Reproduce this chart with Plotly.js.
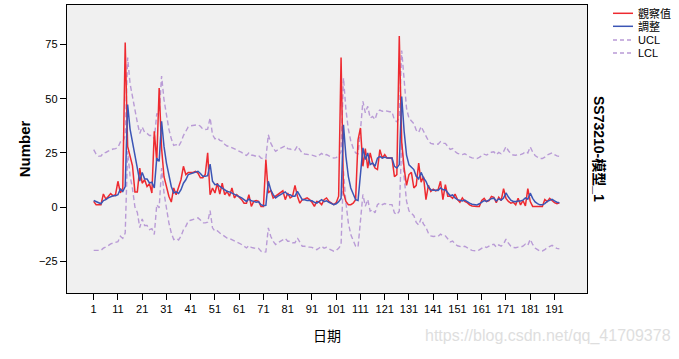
<!DOCTYPE html>
<html>
<head>
<meta charset="utf-8">
<script src="https://cdn.plot.ly/plotly-3.0.1.min.js"></script>
<style>html,body{margin:0;padding:0;background:#fff;}#chart{width:679px;height:359px;}</style>
</head>
<body>
<div id="chart"></div>
<script>
// ---- data ----
const observed = [
 2.6,1.1,1.1,1.1,6,3.7,4.9,6.2,5.2,5.7,
 11.9,6.5,8.8,76,28,24,19,7,7,18,
 11,12.6,9.5,10.8,6.5,35,21,55,27,14,
 9,5,2.3,8.8,5.7,9.5,12.6,18.8,15,16,
 16,16,16.5,15.7,13.5,13.5,15,25,5.7,8.8,
 6.5,11,6,11,5.7,7.2,5,8.8,4.2,5.7,
 4.5,3.4,1.8,1.8,5.7,0.3,2.6,3,2.6,0.3,
 0.3,21.9,6.5,7.7,4.2,5,5.7,6.5,7.5,3.4,
 6.5,4.2,5,10,5,1.8,3.4,3.7,4.2,3.4,
 2.2,0.3,2.6,2.2,1.1,3.4,4.2,2.6,1.8,1.1,
 2,5,69,6.5,2.6,1.1,1.1,1.8,3.4,31,
 36.5,18.8,27,18,25,20.3,18,17.3,26.5,22.6,
 24.2,22.6,22.6,22.6,14,15,79,30,18,10,
 15,16,8.8,10,20.3,11.5,14,3.4,10,7.2,
 8.2,7.5,8,11.9,3.4,10.3,5,5,4,6,
 3.4,2.2,4.2,2.6,2,1,0.5,0.3,0.3,0.3,
 3,4,2.5,3,4.9,4.5,2,4.5,3,8.5,
 4,2.6,1.8,2.2,1,4,1,3,0.5,8.5,
 2.5,0.3,0.3,0.3,0.3,0.3,3.5,2.5,4,3,
 2,1.5,2
];
const fitted = [
 3,2.5,1.8,1.5,3,3.4,4.2,4.9,5.2,5.2,
 5.7,8.3,7.2,9.5,47.3,36,30,24,19,12,
 16,13,13,11.1,11.5,8.8,22.6,21.1,39.6,28,
 20.3,14.2,9.5,6.5,7,6.3,8,11,12.6,15,
 15.4,15.7,16.2,16.5,15.5,14.2,14.2,14.5,19.8,11.9,
 10.3,10.5,9.5,8.8,8,7.2,7,6.5,5.7,5.4,
 5,4.2,3.4,2.6,3.7,2.9,2.6,2.2,2.4,1.1,
 0.6,0.8,11.9,8,5.7,4.2,5,5.7,6.5,7,
 5.7,5.7,5,5,7.2,5,3.4,3.4,3,3,
 2.9,2.2,1.8,2.6,3.4,2.5,2.9,2.2,1.8,1.1,
 1.5,2.5,4,38,23.4,14.2,8.8,5.7,3.4,3,
 14,27.3,21.9,25,19.6,20.3,18.8,22.6,23.4,22.6,
 23.1,22.6,22.6,22.6,18.8,18,19.6,51,35,24,
 19.5,18.5,17.3,14.2,13,16,13.4,11.9,9.2,8,
 7.7,7.8,7.7,8.8,8,8,6.5,5.2,5.6,4.2,
 3.4,3,2.8,3.2,2.4,1.8,1.3,1,1,1.5,
 2.4,3,2.6,3.2,3.9,4.1,2.8,3.8,3.2,4.2,
 6.5,4.6,3.2,2.6,2.5,2.8,2.8,3.2,4.2,3.6,
 6.4,4,2.4,1.6,1,1,1.6,2.6,3.2,3.6,
 2.8,2.2,2
];
const ucl = [
 26.5,24.5,23.5,23.5,25,25.2,25.8,26.5,26.8,27,
 27.5,30,30,33,69,57,51,44,39,34,
 37,34.5,34,33,33,31.5,43,43,60.5,49.5,
 42,36,31.5,28.5,28.8,28,30,33,35,37,
 37.5,37.6,38,38,37.3,36,35.8,36,41.2,33.4,
 31.5,32,30.8,30.5,29,28.2,28,27.5,26.8,26.5,
 26,25.2,24.3,23.8,25,24,23.8,23.4,23.8,22.6,
 22.3,22.5,33.4,29.6,27.3,25.7,26.5,27,27.6,28.2,
 27,26.8,26.2,26.3,28.2,26.5,24.8,24.5,24.4,24.3,
 24,23.6,23.2,24,24.8,23.8,24.2,23.6,23.2,22.6,
 22.8,23.8,25.5,59.6,45,36,30.5,27.2,25,24.6,
 35.5,48.8,43.5,46.5,41.1,41.8,40.4,44,44.8,44.2,
 44.6,44.2,44,44,40.2,39.4,41.2,72.3,56.5,45.5,
 41,39.8,38.5,35.5,34.4,37.2,34.8,33.2,30.6,29.4,
 29.1,29.2,29,30.2,29.4,29.4,27.8,26.6,27,25.6,
 24.8,24.4,24.2,24.6,23.8,23.2,22.7,22.4,22.4,22.9,
 23.8,24.4,24,24.6,25.3,25.5,24.2,25.2,24.6,25.6,
 27.9,26,24.6,24,23.9,24.2,24.2,24.6,25.6,25,
 27.8,25.4,23.8,23,22.4,22.4,23,24,24.6,25,
 24.2,23.6,23.4
];
const lcl = [
 -20,-20,-20,-20,-19,-18.5,-17.8,-17,-16.7,-16.5,
 -16,-13.5,-14.5,-12,25.8,14.5,8.5,0,-2.5,-9.5,
 -5.5,-8.5,-8.5,-10.4,-10,-12.7,1.1,-0.4,18,6.5,
 -1.2,-7.3,-12,-15,-14.5,-15.2,-13.5,-10.5,-8.9,-6.5,
 -6.1,-5.8,-5.3,-5,-6,-7.3,-7.3,-7,-1.7,-9.6,
 -11.2,-11,-12,-12.7,-13.5,-14.3,-14.5,-15,-15.8,-16.1,
 -16.5,-17.3,-18.1,-18.9,-17.8,-18.6,-18.9,-19.3,-19.1,-20.4,
 -20.9,-20.7,-9.6,-13.5,-15.8,-17.3,-16.5,-15.8,-15,-14.5,
 -15.8,-15.8,-16.5,-16.5,-14.3,-16.5,-18.1,-18.1,-18.5,-18.5,
 -18.6,-19.3,-19.7,-18.9,-18.1,-19,-18.6,-19.3,-19.7,-20.4,
 -20,-19,-17.5,16.5,1.9,-7.3,-12.7,-15.8,-18.1,-18.5,
 -7.5,5.8,0.4,3.5,-1.9,-1.2,-2.7,1.1,1.9,1.1,
 1.6,1.1,1.1,1.1,-2.7,-3.5,-1.9,29.7,13.7,2.7,
 -1.8,-2.8,-4,-7.1,-8.3,-5.3,-7.9,-9.4,-12.1,-13.3,
 -13.6,-13.5,-13.6,-12.5,-13.3,-13.3,-14.8,-16.1,-15.7,-17.1,
 -17.9,-18.3,-18.5,-18.1,-18.9,-19.5,-20,-20.3,-20.3,-19.8,
 -18.9,-18.3,-18.7,-18.1,-17.4,-17.2,-18.5,-17.5,-18.1,-17.1,
 -14.8,-16.7,-18.1,-18.7,-18.8,-18.5,-18.5,-18.1,-17.1,-17.7,
 -14.9,-17.3,-18.9,-19.7,-20.3,-20.3,-19.7,-18.7,-18.1,-17.7,
 -18.5,-19.1,-19.3
];
const dayTicks = [1,11,21,31,41,51,61,71,81,91,101,111,121,131,141,151,161,171,181,191];
const yTicks = [-25,0,25,50,75];
const seriesNames = ['觀察值','調整','UCL','LCL'];
const days = observed.map((_, k) => k + 1);

// ---- styling ----
const RED = '#ee2a30', BLUE = '#3b55b5', PURPLE = '#b99bd6';
const FONT = 'Liberation Sans, Arial, Noto Sans CJK TC, sans-serif';
const W = 679, H = 359, L = 67, R = 92, T = 5, B = 66;
const pw = W - L - R, ph = H - T - B;
const px2x = p => (p - L) / pw;
const py2y = p => (H - B - p) / ph;

const dashStyle = {color: PURPLE, width: 1.4, dash: '5px,3px'};
const traces = [
  {x: days, y: ucl, name: seriesNames[2], type: 'scatter', mode: 'lines', line: dashStyle, showlegend: false},
  {x: days, y: lcl, name: seriesNames[3], type: 'scatter', mode: 'lines', line: dashStyle, showlegend: false},
  {x: days, y: observed, name: seriesNames[0], type: 'scatter', mode: 'lines', line: {color: RED, width: 1.5}, showlegend: false},
  {x: days, y: fitted, name: seriesNames[1], type: 'scatter', mode: 'lines', line: {color: BLUE, width: 1.5}, showlegend: false}
];

// custom compact legend
const legRows = [13.3, 26.3, 40, 53];
const legStyles = [
  {color: RED, width: 1.5}, {color: BLUE, width: 1.5},
  {color: PURPLE, width: 1.4, dash: '4px,3px'}, {color: PURPLE, width: 1.4, dash: '4px,3px'}
];
const shapes = legRows.map((ry, k) => ({
  type: 'line', xref: 'paper', yref: 'paper',
  x0: px2x(613), x1: px2x(633), y0: py2y(ry), y1: py2y(ry), line: legStyles[k]
}));
const annotations = legRows.map((ry, k) => ({
  xref: 'paper', yref: 'paper', x: px2x(636), y: py2y(ry), xanchor: 'left', yanchor: 'middle',
  text: seriesNames[k], showarrow: false, font: {family: FONT, size: 11, color: '#000'}
}));
annotations.push({
  xref: 'paper', yref: 'paper', x: px2x(599), y: py2y(149), xanchor: 'center', yanchor: 'middle',
  text: '<b>SS73210-模型_1</b>', textangle: 90, showarrow: false,
  font: {family: FONT, size: 14, color: '#000'}
});
annotations.push({
  xref: 'paper', yref: 'paper', x: px2x(548), y: py2y(336), xanchor: 'center', yanchor: 'middle',
  text: 'https://blog.csdn.net/qq_41709378', showarrow: false,
  font: {family: FONT, size: 16, color: '#dedede'}
});

const layout = {
  width: W, height: H,
  margin: {l: L, r: R, t: T, b: B, pad: 0},
  paper_bgcolor: '#ffffff', plot_bgcolor: '#f0f0f0',
  font: {family: FONT, color: '#000', size: 11},
  showlegend: false,
  xaxis: {
    range: [-10, 204.4], tickmode: 'array', tickvals: dayTicks, ticktext: dayTicks.map(String),
    ticks: 'outside', ticklen: 6, tickwidth: 1, tickcolor: '#000',
    showline: true, linecolor: '#000', linewidth: 1.2, mirror: true,
    showgrid: false, zeroline: false, tickfont: {size: 11, color: '#000'},
    title: {text: '日期', font: {size: 14, color: '#000'}, standoff: 16}
  },
  yaxis: {
    range: [-39.7, 93.3], tickmode: 'array', tickvals: yTicks,
    ticks: 'outside', ticklen: 6, tickwidth: 1, tickcolor: '#000',
    showline: true, linecolor: '#000', linewidth: 1.2, mirror: true,
    showgrid: false, zeroline: false, tickfont: {size: 11, color: '#000'},
    title: {text: '<b>Number</b>', font: {size: 15, color: '#000'}, standoff: 4}
  },
  shapes: shapes,
  annotations: annotations
};

Plotly.newPlot('chart', traces, layout, {staticPlot: true, displayModeBar: false});
</script>
</body>
</html>
